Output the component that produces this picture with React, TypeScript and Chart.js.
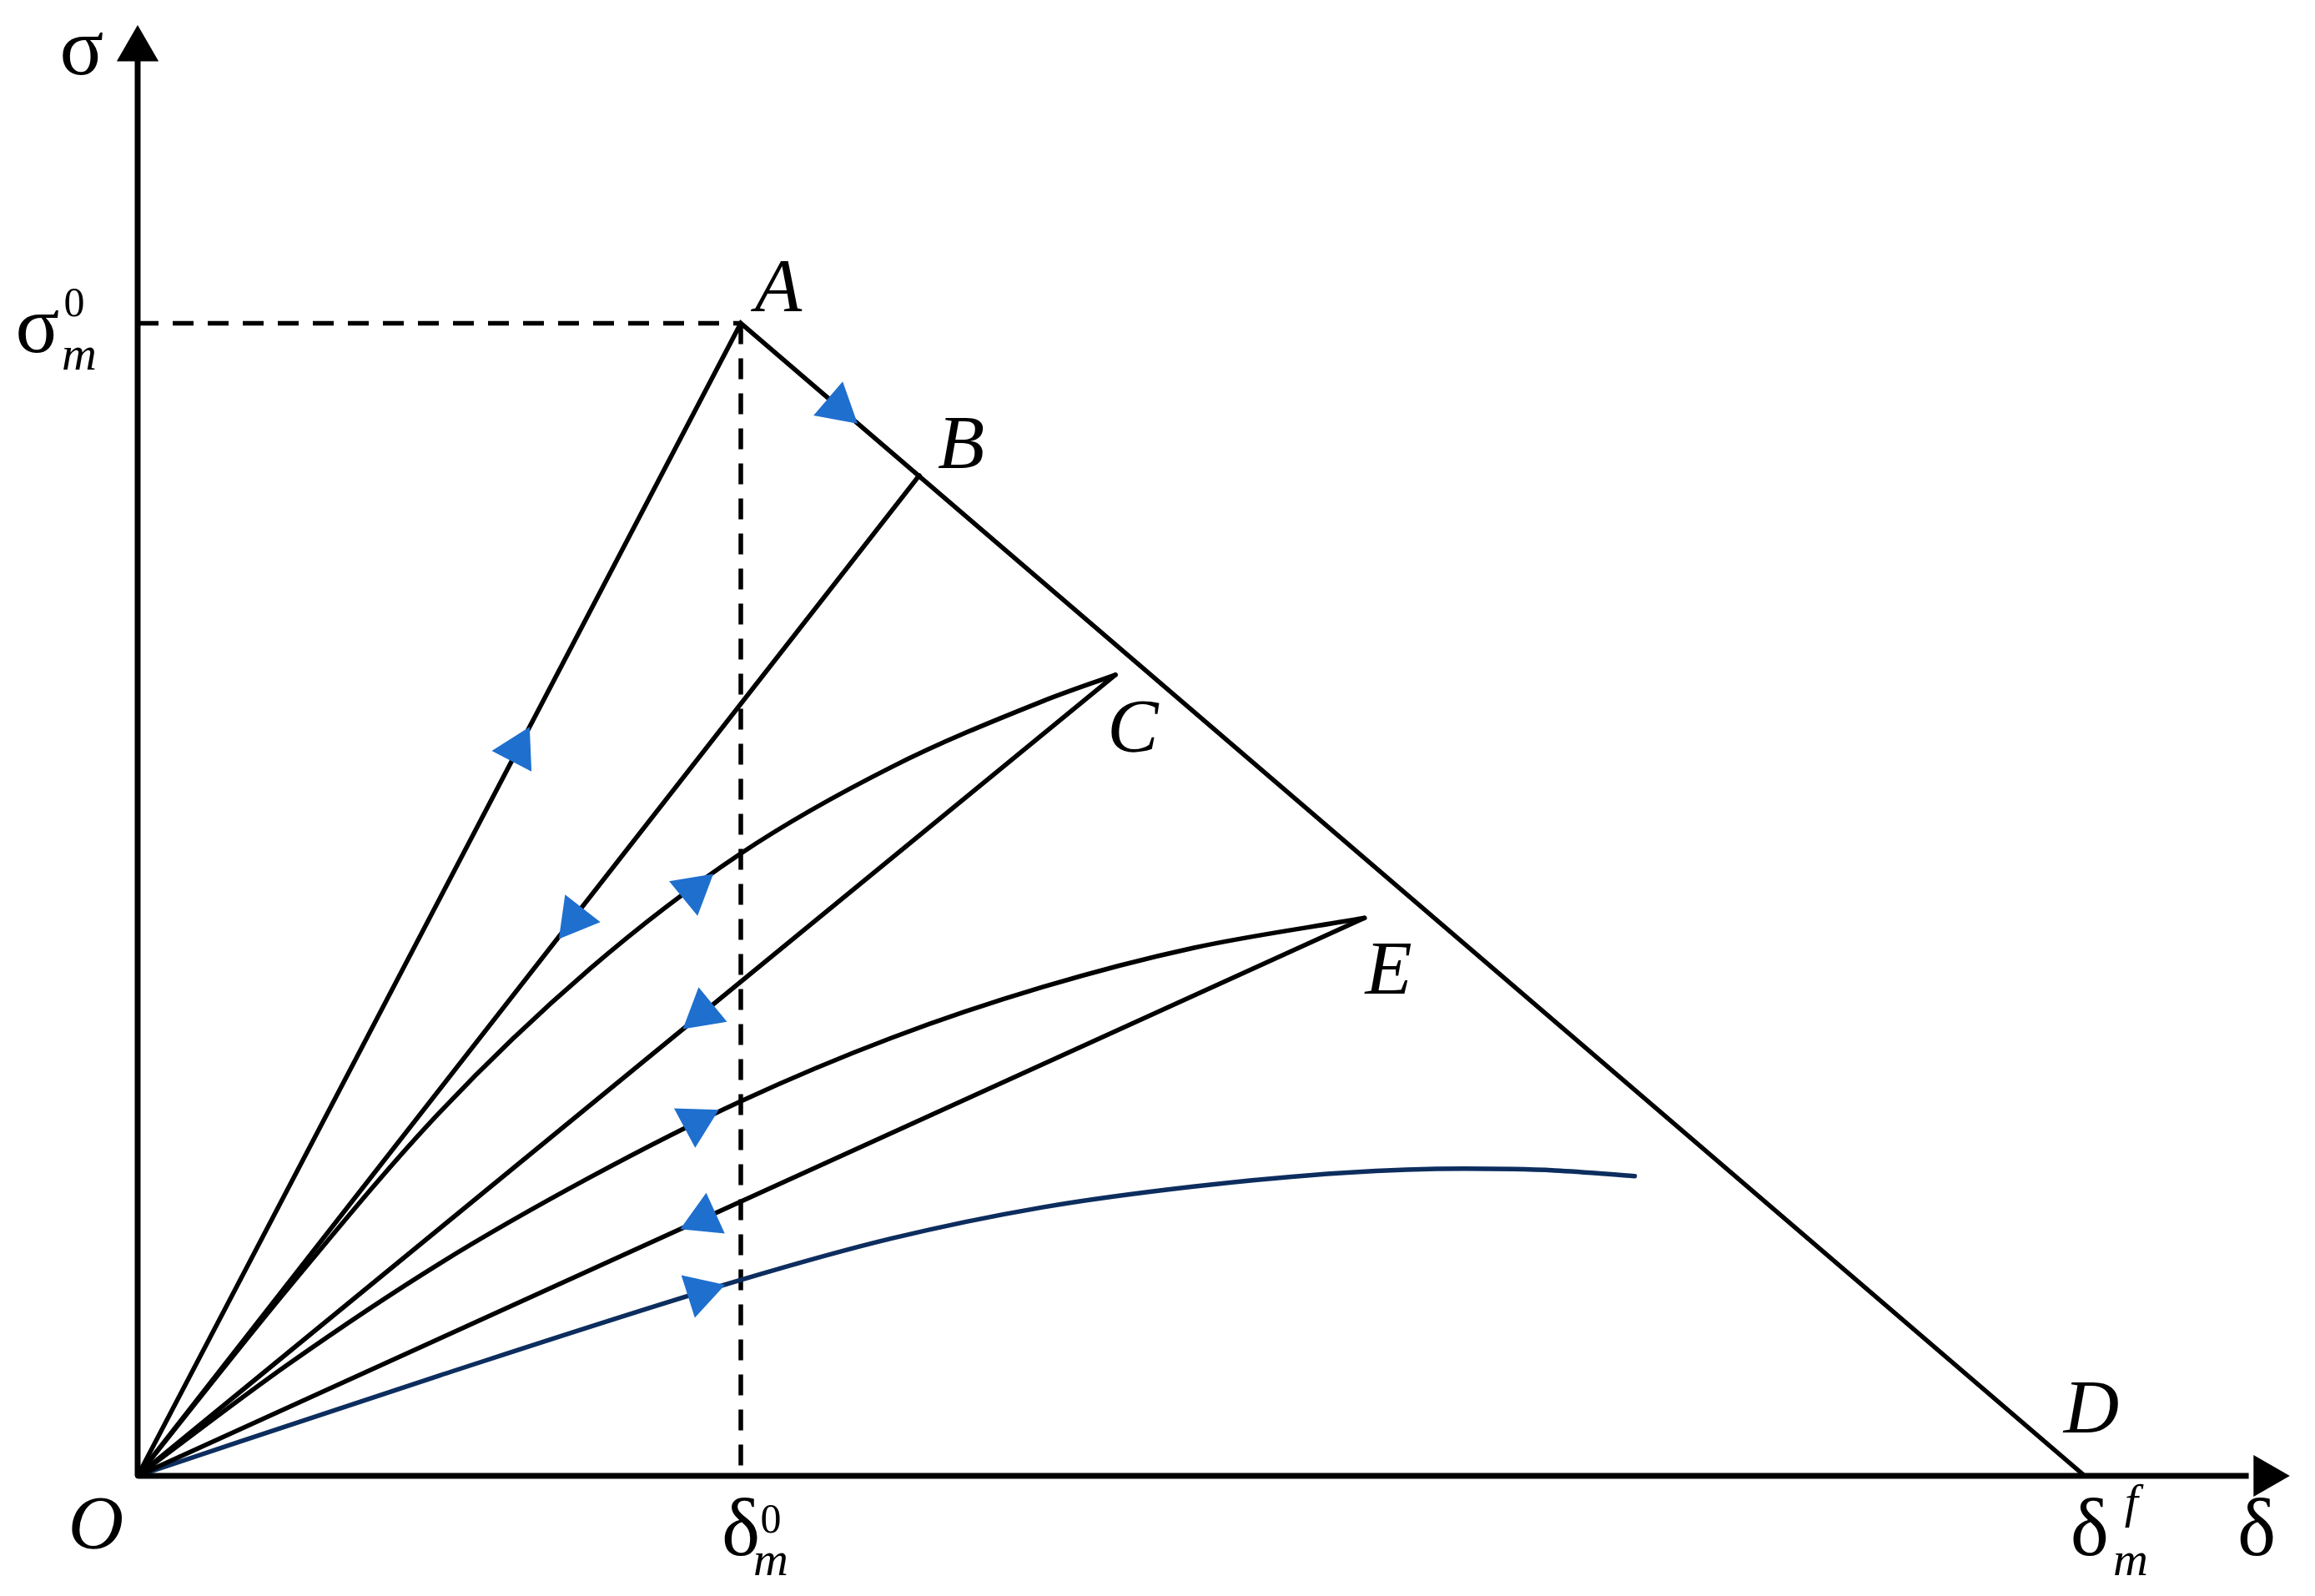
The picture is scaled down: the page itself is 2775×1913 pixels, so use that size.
import React, { useEffect, useRef } from 'react';
import { Chart, registerables } from 'chart.js';

Chart.register(...registerables);

const W = 2775;
const H = 1913;

// δ is measured in units of δ⁰m, σ in units of σ⁰m
const deltaAxisMax = 3.567;
const sigmaAxisMax = 1.258;
const deltaPeak = 1;      // δ⁰m
const sigmaPeak = 1;      // σ⁰m
const deltaFinal = 3.228; // δfm

// named points on the diagram
const pointNames = ['A', 'B', 'C', 'D', 'E', 'O'];
const pointDelta = [1, 1.296, 1.621, 3.228, 2.034, 0];
const pointSigma = [1, 0.868, 0.695, 0, 0.484, 0];

// bilinear envelope O-A-D
const envelopeDelta = [0, deltaPeak, deltaFinal];
const envelopeSigma = [0, sigmaPeak, 0];

// unloading B -> O
const unloadBDelta = [1.296, 0];
const unloadBSigma = [0.868, 0];

// reloading O -> C (curved)
const loadCDelta = [0, 0.25, 0.5, 0.75, 1.0, 1.25, 1.5, 1.621];
const loadCSigma = [0, 0.163, 0.315, 0.44, 0.54, 0.615, 0.672, 0.695];

// unloading C -> O
const unloadCDelta = [1.621, 0];
const unloadCSigma = [0.695, 0];

// reloading O -> E (curved)
const loadEDelta = [0, 0.25, 0.5, 0.75, 1.0, 1.25, 1.5, 1.75, 2.034];
const loadESigma = [0, 0.097, 0.184, 0.259, 0.325, 0.38, 0.424, 0.458, 0.484];

// unloading E -> O
const unloadEDelta = [2.034, 0];
const unloadESigma = [0.484, 0];

// final reloading curve (blue)
const reloadDelta = [0, 0.5, 1.0, 1.25, 1.5, 1.75, 2.0, 2.2, 2.35, 2.482];
const reloadSigma = [0, 0.087, 0.17, 0.206, 0.233, 0.251, 0.263, 0.2665, 0.265, 0.26];

// direction arrows: position and direction of travel
const arrowDelta = [0.63, 1.161, 0.7247, 0.9213, 0.937, 0.9257, 0.9385, 0.933];
const arrowSigma = [0.63, 0.9275, 0.4835, 0.508, 0.4018, 0.307, 0.2233, 0.159];
const arrowDirDelta = [1, 2.228, -1.296, 1, -1.621, 1, -2.034, 1];
const arrowDirSigma = [1, -1, -0.868, 0.43, -0.695, 0.28, -0.484, 0.165];

// axes
const xAxisDelta = [0, 3.5];
const xAxisSigma = [0, 0];
const yAxisDelta = [0, 0];
const yAxisSigma = [0, 1.228];
const axisHeadDelta = [3.528, 0];
const axisHeadSigma = [0, 1.2378];

const SERIF = "'Liberation Serif', 'Times New Roman', serif";
const BLACK = '#000000';
const ARROW_BLUE = '#1f6fce';
const NAVY = '#0c2d5e';

const zip = (xs: number[], ys: number[]) => xs.map((x, i) => ({ x, y: ys[i] }));

type Label = { text: string; font: string; at: [number, number]; off: [number, number] };

const pt = (name: string): [number, number] => {
  const i = pointNames.indexOf(name);
  return [pointDelta[i], pointSigma[i]];
};

const BIG_IT = `italic 92px ${SERIF}`;
const GREEK = `98px ${SERIF}`;
const SUP = `50px ${SERIF}`;
const SUB_IT = `italic 58px ${SERIF}`;

const labels: Label[] = [
  { text: 'A', font: BIG_IT, at: pt('A'), off: [45, -14] },
  { text: 'B', font: BIG_IT, at: pt('B'), off: [50, -9] },
  { text: 'C', font: BIG_IT, at: pt('C'), off: [21, 92] },
  { text: 'E', font: BIG_IT, at: pt('E'), off: [29, 91] },
  { text: 'D', font: BIG_IT, at: pt('D'), off: [8, -52] },
  { text: 'O', font: BIG_IT, at: pt('O'), off: [-50, 87] },
  // axis titles
  { text: 'σ', font: GREEK, at: [0, sigmaAxisMax], off: [-67, 58] },
  { text: 'δ', font: GREEK, at: [deltaAxisMax, 0], off: [-39, 95] },
  // σ⁰m
  { text: 'σ', font: GREEK, at: [0, sigmaPeak], off: [-120, 35] },
  { text: '0', font: SUP, at: [0, sigmaPeak], off: [-76, -8] },
  { text: 'm', font: SUB_IT, at: [0, sigmaPeak], off: [-70, 56] },
  // δ⁰m
  { text: 'δ', font: GREEK, at: [deltaPeak, 0], off: [0, 95] },
  { text: '0', font: SUP, at: [deltaPeak, 0], off: [36, 68] },
  { text: 'm', font: SUB_IT, at: [deltaPeak, 0], off: [36, 119] },
  // δfm
  { text: 'δ', font: GREEK, at: [deltaFinal, 0], off: [6, 95] },
  { text: 'f', font: SUB_IT, at: [deltaFinal, 0], off: [56, 50] },
  { text: 'm', font: SUB_IT, at: [deltaFinal, 0], off: [55, 119] },
];

const labelPlugin = {
  id: 'diagramLabels',
  afterDatasetsDraw(chart: any) {
    const { ctx } = chart;
    const xs = chart.scales.x;
    const ys = chart.scales.y;
    ctx.save();
    ctx.fillStyle = BLACK;
    ctx.textAlign = 'center';
    ctx.textBaseline = 'alphabetic';
    for (const l of labels) {
      ctx.font = l.font;
      ctx.fillText(l.text, xs.getPixelForValue(l.at[0]) + l.off[0], ys.getPixelForValue(l.at[1]) + l.off[1]);
    }
    ctx.restore();
  },
};

const lineDs = (data: any[], color: string, width: number, extra: any = {}) => ({
  data,
  showLine: true,
  borderColor: color,
  borderWidth: width,
  borderCapStyle: 'round',
  borderJoinStyle: 'miter',
  pointRadius: 0,
  pointHoverRadius: 0,
  fill: false,
  clip: false,
  order: 2,
  ...extra,
});

const CURVE_W = 5.5;

export default function App() {
  const ref = useRef<HTMLCanvasElement | null>(null);

  useEffect(() => {
    if (!ref.current) return;
    const arrowRotation = (c: any) => {
      const i = c.dataIndex;
      const xs = c.chart.scales.x;
      const ys = c.chart.scales.y;
      if (!xs || !ys) return 0;
      const pdx = xs.getPixelForValue(arrowDirDelta[i]) - xs.getPixelForValue(0);
      const pdy = ys.getPixelForValue(arrowDirSigma[i]) - ys.getPixelForValue(0);
      return (Math.atan2(pdx, -pdy) * 180) / Math.PI;
    };

    const chart = new Chart(ref.current, {
      type: 'scatter',
      data: {
        datasets: [
          {
            data: zip(arrowDelta, arrowSigma),
            showLine: false,
            pointStyle: 'triangle',
            pointRadius: 31,
            pointHoverRadius: 31,
            pointRotation: arrowRotation,
            backgroundColor: ARROW_BLUE,
            borderColor: ARROW_BLUE,
            borderWidth: 0,
            clip: false,
            order: 0,
          } as any,
          {
            data: zip(axisHeadDelta, axisHeadSigma),
            showLine: false,
            pointStyle: 'triangle',
            pointRadius: 29,
            pointHoverRadius: 29,
            pointRotation: [90, 0],
            backgroundColor: BLACK,
            borderColor: BLACK,
            borderWidth: 0,
            clip: false,
            order: 0,
          } as any,
          lineDs(zip(xAxisDelta, xAxisSigma), BLACK, 7, { order: 1, borderCapStyle: 'butt' }),
          lineDs(zip(yAxisDelta, yAxisSigma), BLACK, 7, { order: 1, borderCapStyle: 'butt' }),
          lineDs(zip(envelopeDelta, envelopeSigma), BLACK, CURVE_W),
          lineDs(zip(unloadBDelta, unloadBSigma), BLACK, CURVE_W),
          lineDs(zip(loadCDelta, loadCSigma), BLACK, CURVE_W, { cubicInterpolationMode: 'monotone' }),
          lineDs(zip(unloadCDelta, unloadCSigma), BLACK, CURVE_W),
          lineDs(zip(loadEDelta, loadESigma), BLACK, CURVE_W, { cubicInterpolationMode: 'monotone' }),
          lineDs(zip(unloadEDelta, unloadESigma), BLACK, CURVE_W),
          lineDs(zip(reloadDelta, reloadSigma), NAVY, CURVE_W, { cubicInterpolationMode: 'monotone' }),
          lineDs([{ x: 0, y: sigmaPeak }, { x: deltaPeak, y: sigmaPeak }], BLACK, 5.5, { borderDash: [25, 17], borderCapStyle: 'butt', order: 3 }),
          lineDs([{ x: deltaPeak, y: sigmaPeak }, { x: deltaPeak, y: 0 }], BLACK, 5.5, { borderDash: [25, 17], borderCapStyle: 'butt', order: 3 }),
        ],
      },
      options: {
        animation: false,
        responsive: false,
        maintainAspectRatio: false,
        devicePixelRatio: 1,
        layout: { padding: { left: 165, right: 18, top: 18, bottom: 144 } },
        plugins: { legend: { display: false }, tooltip: { enabled: false } },
        events: [],
        scales: {
          x: { type: 'linear', min: 0, max: deltaAxisMax, display: false },
          y: { type: 'linear', min: 0, max: sigmaAxisMax, display: false },
        },
      },
      plugins: [labelPlugin],
    } as any);
    return () => chart.destroy();
  }, []);

  return (
    <div style={{ position: 'fixed', left: 0, top: 0, width: W, height: H, background: '#ffffff' }}>
      <canvas ref={ref} width={W} height={H} style={{ display: 'block', width: W, height: H }} />
    </div>
  );
}
